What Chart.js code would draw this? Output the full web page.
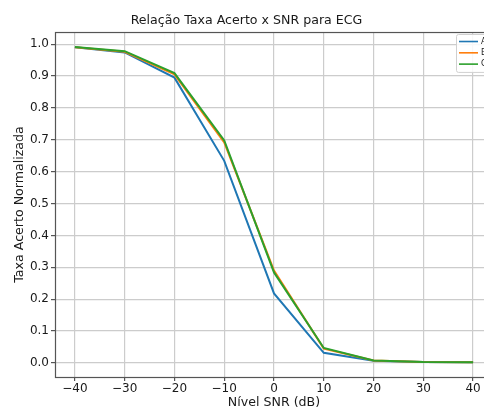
<!DOCTYPE html>
<html>
<head>
<meta charset="utf-8">
<script src="https://cdn.jsdelivr.net/npm/chart.js@4.4.1/dist/chart.umd.min.js"></script>
<style>
  html, body { margin: 0; padding: 0; background: #fff; overflow: hidden; }
  #chart { display: block; }
</style>
</head>
<body>
<canvas id="chart" width="548" height="410"></canvas>
<script>
// datos
const snrLevels = [-40, -30, -20, -10, 0, 10, 20, 30, 40];
const seriesNames = ['A', 'B', 'C'];
const seriesA = [0.990, 0.974, 0.895, 0.634, 0.218, 0.032, 0.007, 0.003, 0.002];
const seriesB = [0.990, 0.976, 0.905, 0.692, 0.290, 0.045, 0.008, 0.003, 0.002];
const seriesC = [0.991, 0.978, 0.909, 0.698, 0.284, 0.047, 0.008, 0.003, 0.002];
const xTicks = [-40, -30, -20, -10, 0, 10, 20, 30, 40];
const yTicks = [0.0, 0.1, 0.2, 0.3, 0.4, 0.5, 0.6, 0.7, 0.8, 0.9, 1.0];

const colors = ['#1f77b4', '#ff7f0e', '#2ca02c'];
const FONT = 'DejaVu Sans';
const TXT = '#1a1a1a';

const toPoints = vals => snrLevels.map((x, i) => ({ x: x, y: vals[i] }));

const mkDataset = (label, vals, i) => ({
  label: label,
  data: toPoints(vals),
  borderColor: colors[i],
  backgroundColor: colors[i],
  borderWidth: 2,
  pointRadius: 0,
  tension: 0,
  fill: false,
  order: 3 - i   // el verde queda arriba
});

// marco del area de trazado
const framePlugin = {
  id: 'frame',
  afterDatasetsDraw(chart) {
    const { ctx, chartArea: a } = chart;
    ctx.save();
    ctx.strokeStyle = '#555';
    ctx.lineWidth = 1.2;
    ctx.strokeRect(a.left + 0.5, a.top + 0.5, a.right - a.left, a.bottom - a.top);
    ctx.restore();
  }
};

// leyenda dentro del grafico (arriba a la derecha)
const insetLegend = {
  id: 'insetLegend',
  afterDraw(chart) {
    const { ctx, chartArea: a } = chart;
    const x0 = a.right - 37, y0 = a.top + 2, w = 34, rowH = 11.3;
    const h = rowH * chart.data.datasets.length + 4;
    ctx.save();
    ctx.fillStyle = 'rgba(255,255,255,0.85)';
    ctx.strokeStyle = '#d0d0d0';
    ctx.lineWidth = 1;
    ctx.beginPath();
    ctx.roundRect(x0 + 0.5, y0 + 0.5, w, h, 2);
    ctx.fill();
    ctx.stroke();
    ctx.font = '8px ' + FONT;
    ctx.textBaseline = 'middle';
    chart.data.datasets.forEach((ds, i) => {
      const y = y0 + 7.5 + i * rowH;
      ctx.strokeStyle = ds.borderColor;
      ctx.lineWidth = 1.6;
      ctx.beginPath();
      ctx.moveTo(x0 + 3, y);
      ctx.lineTo(x0 + 22, y);
      ctx.stroke();
      ctx.fillStyle = TXT;
      ctx.fillText(ds.label, x0 + 25, y);
    });
    ctx.restore();
  }
};

const minus = v => String(v).replace('-', '\u2212');

new Chart(document.getElementById('chart'), {
  type: 'line',
  data: {
    datasets: [
      mkDataset(seriesNames[0], seriesA, 0),
      mkDataset(seriesNames[1], seriesB, 1),
      mkDataset(seriesNames[2], seriesC, 2)
    ]
  },
  options: {
    responsive: false,
    animation: false,
    layout: { padding: { left: 0, right: 55, top: 0, bottom: 0 } },
    plugins: {
      legend: { display: false },
      tooltip: { enabled: false },
      title: {
        display: true,
        text: 'Relação Taxa Acerto x SNR para ECG',
        color: TXT,
        font: { family: FONT, size: 12.6, weight: 'normal', lineHeight: 1.2 },
        padding: { top: 13.4, bottom: 3.5 }
      }
    },
    scales: {
      x: {
        type: 'linear',
        min: -44,
        max: 44,
        afterFit(s) { s.height = 33; },
        afterBuildTicks(s) { s.ticks = xTicks.map(v => ({ value: v })); },
        ticks: {
          color: TXT,
          padding: 1,
          font: { family: FONT, size: 12 },
          callback: v => minus(v),
          maxRotation: 0
        },
        grid: { color: '#cccccc', lineWidth: 1.2, tickLength: 4, tickColor: '#555' },
        border: { display: false },
        title: {
          display: true,
          text: 'Nível SNR (dB)',
          color: TXT,
          font: { family: FONT, size: 12.6 },
          padding: { top: 0, bottom: 0 }
        }
      },
      y: {
        type: 'linear',
        min: -0.044,
        max: 1.038,
        afterFit(s) { s.width = 55; },
        afterBuildTicks(s) { s.ticks = yTicks.map(v => ({ value: v })); },
        ticks: {
          color: TXT,
          padding: 2,
          font: { family: FONT, size: 12 },
          callback: v => Number(v).toFixed(1)
        },
        grid: { color: '#cccccc', lineWidth: 1.2, tickLength: 4, tickColor: '#555' },
        border: { display: false },
        title: {
          display: true,
          text: 'Taxa Acerto Normalizada',
          color: TXT,
          font: { family: FONT, size: 12.6 },
          padding: { top: 12.4, bottom: 0 }
        }
      }
    }
  },
  plugins: [framePlugin, insetLegend]
});
</script>
</body>
</html>
